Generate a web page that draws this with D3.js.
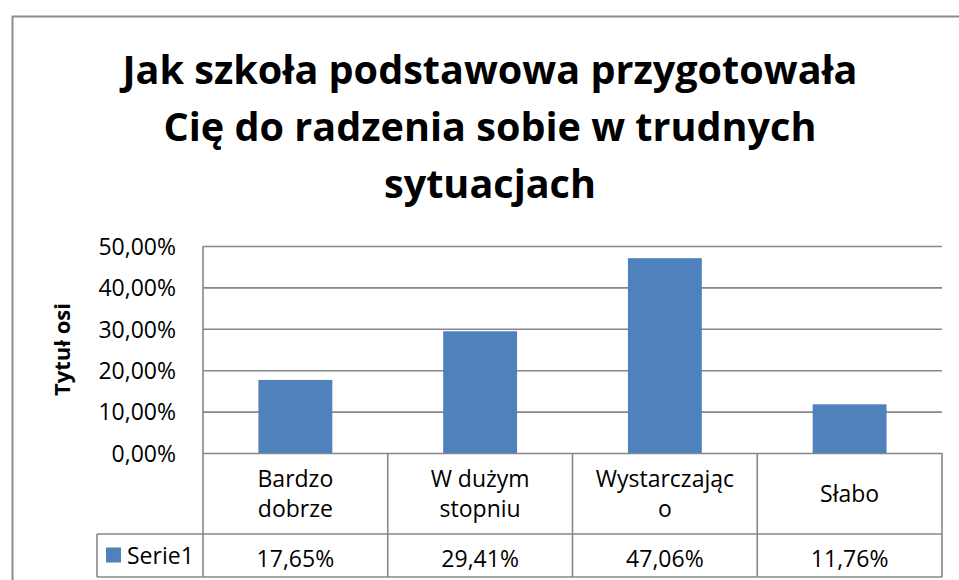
<!DOCTYPE html>
<html>
<head>
<meta charset="utf-8">
<script src="https://cdn.jsdelivr.net/npm/d3@7"></script>
<style>
  body { margin: 0; background: #fff; }
  svg text { font-family: "Open Sans", "DejaVu Sans", sans-serif; fill: #000; }
</style>
</head>
<body>
<div id="chart"></div>
<script>
// data
const titleLines = ["Jak szkoła podstawowa przygotowała", "Cię do radzenia sobie w trudnych", "sytuacjach"];
const categories = ["Bardzo dobrze", "W dużym stopniu", "Wystarczając o", "Słabo"];
const categoryLines = [["Bardzo", "dobrze"], ["W dużym", "stopniu"], ["Wystarczając", "o"], ["Słabo"]];
const seriesName = "Serie1";
const values = [17.65, 29.41, 47.06, 11.76];
const yTicks = [0, 10, 20, 30, 40, 50];
const axisTitle = "Tytuł osi";

const config = {
    width: 959,
    height: 580,
    plotLeft: 203,
    plotRight: 942,
    plotTop: 246,
    plotBottom: 453,
    row1Bottom: 534,
    row2Bottom: 577,
    legendLeft: 97,
    barColor: '#4f81bd',
    lineColor: '#878787',
    fontSize: '23px'
};

const pl = d3.formatLocale({decimal: ",", thousands: " ", grouping: [3], currency: ["", " zł"]});
const pct = v => pl.format(".2f")(v) + "%";

const svg = d3.select('#chart')
    .append('svg')
    .attr('width', config.width)
    .attr('height', config.height);

// outer chart border
svg.append('rect')
    .attr('x', 12.5)
    .attr('y', 16.5)
    .attr('width', 1000)
    .attr('height', 1000)
    .attr('fill', 'none')
    .attr('stroke', '#8c8c8c')
    .attr('stroke-width', 2);

// title
svg.append('text')
    .attr('text-anchor', 'middle')
    .style('font-size', '39.6px')
    .style('font-weight', 700)
    .selectAll('tspan')
    .data(titleLines)
    .join('tspan')
    .attr('x', 490)
    .attr('y', (d, i) => 84 + i * 57)
    .text(d => d);

const x = d3.scaleBand()
    .domain(categories)
    .range([config.plotLeft, config.plotRight])
    .padding(0);

const y = d3.scaleLinear()
    .domain([0, 50])
    .range([config.plotBottom, config.plotTop]);

// gridlines + tick labels
const yAxis = svg.append('g')
    .attr('class', 'yAxis')
    .attr('transform', `translate(${config.plotLeft}, 0)`)
    .call(d3.axisLeft(y)
        .tickValues(yTicks)
        .tickSize(-(config.plotRight - config.plotLeft))
        .tickPadding(27)
        .tickFormat(pct));
yAxis.select('.domain').remove();
yAxis.selectAll('line')
    .attr('stroke', config.lineColor)
    .attr('stroke-width', 1.6);
yAxis.selectAll('text')
    .style('font-size', config.fontSize)
    .attr('dy', '0.36em');

// axis title
svg.append('text')
    .attr('transform', `translate(70, ${(config.plotTop + config.plotBottom) / 2}) rotate(-90)`)
    .attr('text-anchor', 'middle')
    .style('font-size', '22px')
    .style('font-weight', 700)
    .text(axisTitle);

// bars (gap width 150%)
const barW = x.bandwidth() / 2.5;
svg.selectAll('.bar_rect')
    .data(values)
    .join('rect')
    .attr('class', 'bar_rect')
    .attr('x', (d, i) => x(categories[i]) + (x.bandwidth() - barW) / 2)
    .attr('y', d => y(d))
    .attr('width', barW)
    .attr('height', d => y(0) - y(d))
    .attr('fill', config.barColor);

// data table lines
const tbl = svg.append('g')
    .attr('stroke', config.lineColor)
    .attr('stroke-width', 1.6);
// vertical axis line running through the table
tbl.append('line')
    .attr('x1', config.plotLeft).attr('x2', config.plotLeft)
    .attr('y1', config.plotTop).attr('y2', config.row2Bottom);
// column separators
tbl.selectAll('.colsep')
    .data(categories)
    .join('line')
    .attr('x1', d => x(d) + x.bandwidth())
    .attr('x2', d => x(d) + x.bandwidth())
    .attr('y1', config.plotBottom)
    .attr('y2', config.row2Bottom);
// horizontal rows
tbl.selectAll('.rowsep')
    .data([config.row1Bottom, config.row2Bottom])
    .join('line')
    .attr('x1', config.legendLeft)
    .attr('x2', config.plotRight)
    .attr('y1', d => d)
    .attr('y2', d => d);
tbl.append('line')
    .attr('x1', config.legendLeft).attr('x2', config.legendLeft)
    .attr('y1', config.row1Bottom).attr('y2', config.row2Bottom);

// category labels
const row1Mid = (config.plotBottom + config.row1Bottom) / 2;
svg.selectAll('.catLabel')
    .data(categoryLines)
    .join('text')
    .attr('class', 'catLabel')
    .attr('text-anchor', 'middle')
    .style('font-size', config.fontSize)
    .each(function (lines, i) {
        const cx = x(categories[i]) + x.bandwidth() / 2;
        d3.select(this).selectAll('tspan')
            .data(lines)
            .join('tspan')
            .attr('x', cx)
            .attr('y', (d, j) => row1Mid + (j - (lines.length - 1) / 2) * 30)
            .attr('dy', '0.36em')
            .text(d => d);
    });

// values row
const row2Mid = (config.row1Bottom + config.row2Bottom) / 2;
svg.selectAll('.valLabel')
    .data(values)
    .join('text')
    .attr('class', 'valLabel')
    .attr('text-anchor', 'middle')
    .style('font-size', config.fontSize)
    .attr('x', (d, i) => x(categories[i]) + x.bandwidth() / 2)
    .attr('y', row2Mid + 3)
    .attr('dy', '0.36em')
    .text(d => pct(d));

// legend key in table
svg.append('rect')
    .attr('x', 106)
    .attr('y', row2Mid - 8)
    .attr('width', 15)
    .attr('height', 15)
    .attr('fill', config.barColor);
svg.append('text')
    .attr('x', 127)
    .attr('y', row2Mid)
    .attr('dy', '0.36em')
    .style('font-size', config.fontSize)
    .text(seriesName);
</script>
</body>
</html>
